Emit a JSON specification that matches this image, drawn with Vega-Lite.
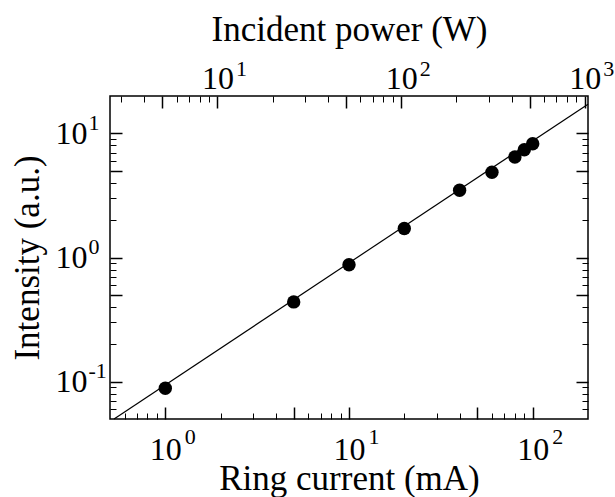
{
  "$schema": "https://vega.github.io/schema/vega-lite/v6.json",
  "width": 478,
  "height": 323,
  "autosize": "none",
  "padding": {"left": 110, "top": 96, "right": 27, "bottom": 78},
  "background": "white",
  "config": {
    "view": {"stroke": "black", "strokeWidth": 1.5},
    "font": "Liberation Serif",
    "axis": {
      "labelFont": "Liberation Serif",
      "titleFont": "Liberation Serif",
      "labelColor": "black",
      "titleColor": "black",
      "tickColor": "black",
      "domain": false,
      "grid": false,
      "titleFontWeight": "normal",
      "labelFontSize": 32,
      "titleFontSize": 35,
      "labelFlush": false,
      "labelOverlap": false,
      "labelBound": false
    }
  },
  "datasets": {
    "points": [
      {"current": 1, "intensity": 0.0885},
      {"current": 5, "intensity": 0.439},
      {"current": 10, "intensity": 0.873},
      {"current": 20, "intensity": 1.71},
      {"current": 40, "intensity": 3.48},
      {"current": 60, "intensity": 4.86},
      {"current": 80, "intensity": 6.46},
      {"current": 90, "intensity": 7.39},
      {"current": 100, "intensity": 8.26}
    ],
    "fit": [
      {"current": 0.526, "intensity": 0.05},
      {"current": 200, "intensity": 17.2}
    ]
  },
  "layer": [
    {
      "data": {"name": "fit"},
      "mark": {"type": "line", "color": "black", "strokeWidth": 1.2},
      "encoding": {
        "x": {
          "field": "current", "type": "quantitative",
          "scale": {"type": "log", "domain": [0.5, 200], "nice": false},
          "axis": {
            "orient": "bottom",
            "values": [1, 5, 10, 50, 100],
            "tickSize": -12, "tickWidth": 1.5,
            "labelExpr": "datum.value == 1 || datum.value == 10 || datum.value == 100 ? '10' : ''",
            "labelBaseline": "top",
            "labelPadding": 27,
            "title": "Ring current (mA)",
            "titlePadding": -4
          }
        },
        "y": {
          "field": "intensity", "type": "quantitative",
          "scale": {"type": "log", "domain": [0.05, 20], "nice": false},
          "axis": {
            "orient": "left",
            "values": [0.1, 0.5, 1, 5, 10],
            "tickSize": -12, "tickWidth": 1.5,
            "labelExpr": "datum.value == 0.1 || datum.value == 1 || datum.value == 10 ? '10' : ''",
            "labelBaseline": "middle",
            "labelPadding": 35,
            "title": "Intensity (a.u.)",
            "titlePadding": 10
          }
        }
      }
    },
    {
      "data": {"name": "points"},
      "mark": {"type": "circle", "color": "black", "opacity": 1, "size": 180},
      "encoding": {
        "x": {
          "field": "current", "type": "quantitative",
          "scale": {"type": "log", "domain": [0.5, 200], "nice": false},
          "axis": {
            "orient": "bottom",
            "values": [0.6, 0.7, 0.8, 0.9, 2, 3, 4, 6, 7, 8, 9, 20, 30, 40, 60, 70, 80, 90],
            "tickSize": -6, "tickWidth": 1,
            "labels": false, "title": null
          }
        },
        "y": {
          "field": "intensity", "type": "quantitative",
          "axis": {
            "orient": "left",
            "values": [0.06, 0.07, 0.08, 0.09, 0.2, 0.3, 0.4, 0.6, 0.7, 0.8, 0.9, 2, 3, 4, 6, 7, 8, 9],
            "tickSize": -6, "tickWidth": 1,
            "labels": false, "title": null
          }
        }
      }
    },
    {
      "data": {"name": "fit"},
      "mark": {"type": "point", "opacity": 0},
      "encoding": {
        "x": {
          "datum": 1, "type": "quantitative",
          "scale": {"type": "log", "domain": [0.5, 200], "nice": false},
          "axis": {
            "orient": "bottom",
            "values": [1, 10, 100],
            "ticks": false, "tickSize": 0,
            "labelExpr": "datum.value == 1 ? '0' : datum.value == 10 ? '1' : '2'",
            "labelFontSize": 22,
            "labelAlign": "left",
            "labelBaseline": "top",
            "labelOffset": 19,
            "labelPadding": 7,
            "title": null
          }
        },
        "y": {
          "datum": 1, "type": "quantitative",
          "axis": {
            "orient": "left",
            "values": [0.1, 1, 10],
            "ticks": false, "tickSize": 0,
            "labelExpr": "datum.value == 0.1 ? '-1' : datum.value == 1 ? '0' : '1'",
            "labelFontSize": 22,
            "labelAlign": "left",
            "labelBaseline": "middle",
            "labelOffset": -11,
            "labelPadding": 22,
            "title": null
          }
        }
      }
    },
    {
      "data": {"name": "fit"},
      "mark": {"type": "point", "opacity": 0},
      "encoding": {
        "x": {
          "datum": 10, "type": "quantitative",
          "scale": {"type": "log", "domain": [2.6, 1040], "nice": false},
          "axis": {
            "orient": "top",
            "values": [5, 10, 50, 100, 500, 1000],
            "tickSize": -12, "tickWidth": 1.5,
            "labelExpr": "datum.value == 10 || datum.value == 100 || datum.value == 1000 ? '10' : ''",
            "labelBaseline": "alphabetic",
            "labelPadding": 20,
            "title": "Incident power (W)",
            "titlePadding": 15
          }
        },
        "y": {
          "datum": 1, "type": "quantitative",
          "axis": {
            "orient": "right",
            "values": [0.1, 0.5, 1, 5, 10],
            "tickSize": -12, "tickWidth": 1.5,
            "labels": false, "title": null
          }
        }
      }
    },
    {
      "data": {"name": "fit"},
      "mark": {"type": "point", "opacity": 0},
      "encoding": {
        "x": {
          "datum": 10, "type": "quantitative",
          "scale": {"type": "log", "domain": [2.6, 1040], "nice": false},
          "axis": {
            "orient": "top",
            "values": [3, 4, 6, 7, 8, 9, 20, 30, 40, 60, 70, 80, 90, 200, 300, 400, 600, 700, 800, 900],
            "tickSize": -6, "tickWidth": 1,
            "labels": false, "title": null
          }
        },
        "y": {
          "datum": 1, "type": "quantitative",
          "axis": {
            "orient": "right",
            "values": [0.06, 0.07, 0.08, 0.09, 0.2, 0.3, 0.4, 0.6, 0.7, 0.8, 0.9, 2, 3, 4, 6, 7, 8, 9],
            "tickSize": -6, "tickWidth": 1,
            "labels": false, "title": null
          }
        }
      }
    },
    {
      "data": {"name": "fit"},
      "mark": {"type": "point", "opacity": 0},
      "encoding": {
        "x": {
          "datum": 10, "type": "quantitative",
          "scale": {"type": "log", "domain": [2.6, 1040], "nice": false},
          "axis": {
            "orient": "top",
            "values": [10, 100, 1000],
            "ticks": false, "tickSize": 0,
            "labelExpr": "datum.value == 10 ? '1' : datum.value == 100 ? '2' : '3'",
            "labelFontSize": 22,
            "labelAlign": "left",
            "labelBaseline": "alphabetic",
            "labelOffset": 18,
            "labelPadding": 21,
            "title": null
          }
        },
        "y": {
          "datum": 1, "type": "quantitative",
          "axis": null
        }
      }
    }
  ],
  "resolve": {
    "scale": {"x": "independent"},
    "axis": {"x": "independent", "y": "independent"}
  }
}
